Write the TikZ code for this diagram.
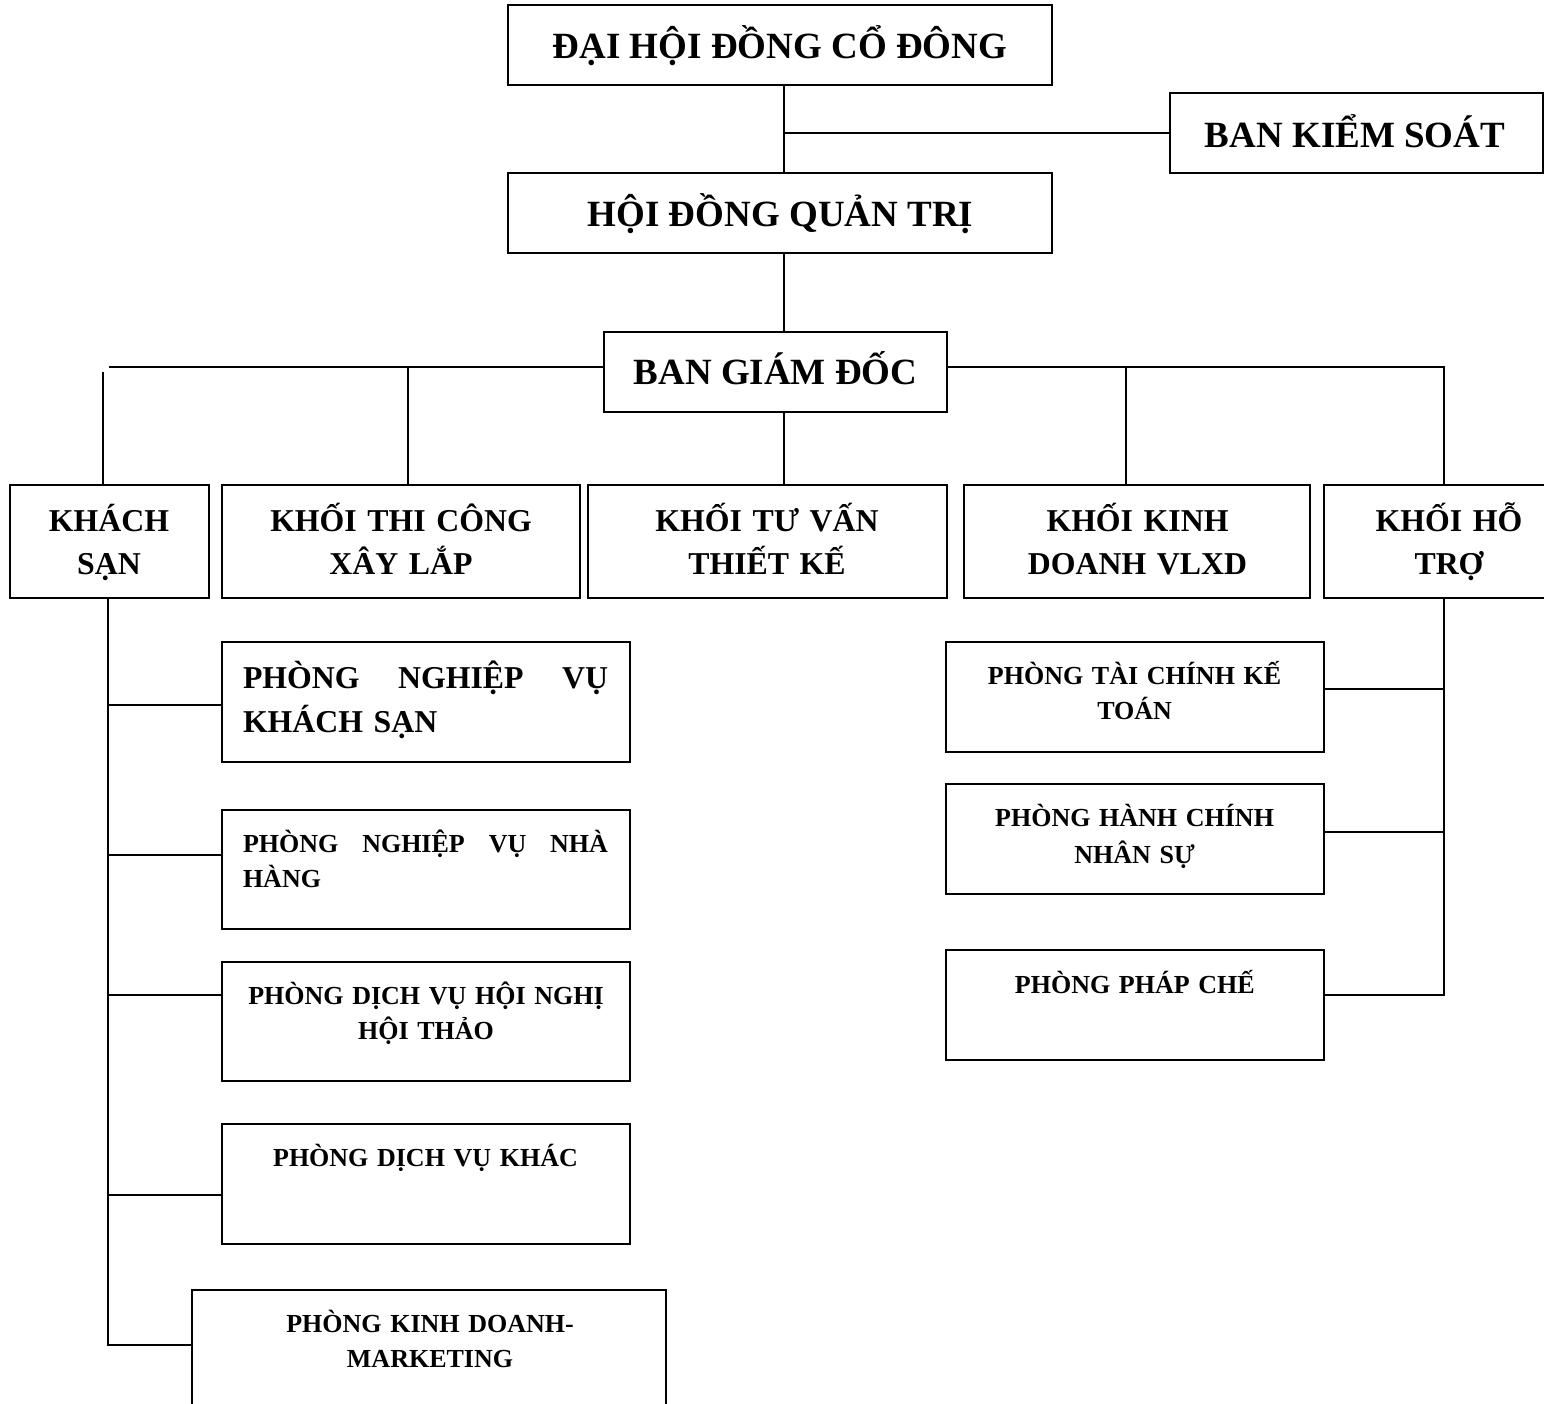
\documentclass[tikz,border=0pt]{standalone}
\usepackage{fontspec}
\setmainfont{Liberation Serif}
\begin{document}
\begin{tikzpicture}[x=0.5pt,y=-0.5pt,
  box/.style={draw, line width=1pt, rectangle, inner sep=0pt},
  conn/.style={line width=1pt},
  bigtxt/.style={inner sep=0pt, anchor=base, font=\bfseries\fontsize{18.5}{22}\selectfont},
  midtxt/.style={inner sep=0pt, anchor=base, text width=175pt, align=center, font=\bfseries\fontsize{15.9}{21.25}\selectfont},
  smalltxt/.style={inner sep=0pt, anchor=base, text width=200pt, align=center, font=\bfseries\fontsize{13}{17.5}\selectfont},
]
\useasboundingbox (0,0) rectangle (1544,1404);
\clip (0,0) rectangle (1544,1404);
\fill[white] (0,0) rectangle (1544,1404);

% boxes
\node[box, minimum width=272pt, minimum height=40pt] (dh) at (780,45) {};
\node[box, minimum width=186.5pt, minimum height=40pt] (bks) at (1356.5,133) {};
\node[box, minimum width=272pt, minimum height=40pt] (hdqt) at (780,213) {};
\node[box, minimum width=171.75pt, minimum height=39.75pt] (bgd) at (775.25,371.75) {};

\node[box, minimum width=99.5pt, minimum height=56.25pt] (ks) at (109,541.5) {};
\node[box, minimum width=179pt, minimum height=56.25pt] (tc) at (401,541.5) {};
\node[box, minimum width=179.75pt, minimum height=56.25pt] (tv) at (767.25,541.5) {};
\node[box, minimum width=173pt, minimum height=56.25pt] (kd) at (1137,541.5) {};
\node[box, minimum width=120pt, minimum height=56.25pt] (ht) at (1444,541.5) {};

\node[box, minimum width=204pt, minimum height=59.75pt] (pnvks) at (426,701.75) {};
\node[box, minimum width=204pt, minimum height=59.5pt] (pnvnh) at (426,869.5) {};
\node[box, minimum width=204pt, minimum height=59.5pt] (dvhn) at (426,1021.5) {};
\node[box, minimum width=204pt, minimum height=60pt] (dvk) at (426,1183.5) {};
\node[box, minimum width=236.75pt, minimum height=60pt] (kdm) at (428.75,1350) {};

\node[box, minimum width=189pt, minimum height=54.75pt] (ptckt) at (1135,696.75) {};
\node[box, minimum width=189pt, minimum height=55pt] (phcns) at (1135,839) {};
\node[box, minimum width=189pt, minimum height=55.25pt] (ppc) at (1135,1004.75) {};

% texts
\node[bigtxt] (dh-t) at (780,58) {ĐẠI HỘI ĐỒNG CỔ ĐÔNG};
\node[bigtxt] (bks-t) at (1355,147) {BAN KIỂM SOÁT};
\node[bigtxt] (hdqt-t) at (780.5,226) {HỘI ĐỒNG QUẢN TRỊ};
\node[bigtxt] (bgd-t) at (775.5,384) {BAN GIÁM ĐỐC};

\node[midtxt] (ks-t) at (109,531.5) {KHÁCH\\SẠN};
\node[midtxt] (tc-t) at (401,531.5) {KHỐI THI CÔNG\\XÂY LẮP};
\node[midtxt] (tv-t) at (767,531.5) {KHỐI TƯ VẤN\\THIẾT KẾ};
\node[midtxt] (kd-t) at (1137.5,531.5) {KHỐI KINH\\DOANH VLXD};
\node[midtxt] (ht-t) at (1449,531.5) {KHỐI HỖ\\TRỢ};

\node[inner sep=0pt, anchor=base, text width=182.5pt, align=left,
  font=\bfseries\fontsize{15.9}{22.25}\selectfont] (pnvks-t) at (425.5,688)
  {\makebox[\linewidth]{PHÒNG\hfill NGHIỆP\hfill VỤ}\\KHÁCH SẠN};
\node[inner sep=0pt, anchor=base, text width=182.5pt, align=left,
  font=\bfseries\fontsize{13}{17.5}\selectfont] (pnvnh-t) at (425.5,852.5)
  {\makebox[\linewidth]{PHÒNG\hfill NGHIỆP\hfill VỤ\hfill NHÀ}\\HÀNG};
\node[smalltxt] (dvhn-t) at (426,1004.5) {PHÒNG DỊCH VỤ HỘI NGHỊ\\HỘI THẢO};
\node[smalltxt] (dvk-t) at (425.5,1166.5) {PHÒNG DỊCH VỤ KHÁC};
\node[smalltxt] (kdm-t) at (430,1332.5) {PHÒNG KINH DOANH-\\MARKETING};

\node[smalltxt] (ptckt-t) at (1134.6,684.5) {PHÒNG TÀI CHÍNH KẾ\\TOÁN};
\node[smalltxt, font=\bfseries\fontsize{13}{18.3}\selectfont] (phcns-t) at (1134.6,826.5) {PHÒNG HÀNH CHÍNH\\NHÂN SỰ};
\node[smalltxt] (ppc-t) at (1134.8,993) {PHÒNG PHÁP CHẾ};

% connectors top
\draw[conn] ([xshift=2pt]dh.south) -- ([xshift=2pt]hdqt.north);
\draw[conn] ([xshift=2pt]dh.south |- bks.west) -- (bks.west);
\draw[conn] ([xshift=2pt]hdqt.south) -- ([xshift=2pt]hdqt.south |- bgd.north);
\draw[conn] ([xshift=2pt]hdqt.south |- bgd.south) -- ([xshift=2pt]hdqt.south |- tv.north);

% bgd to left blocks
\draw[conn] ([yshift=2.2pt]bgd.west) -- ([yshift=2.2pt]bgd.west -| ks.north);
\draw[conn] ([xshift=-3.25pt]ks.north) -- ([xshift=-3.25pt]ks.north |- bgd.west);
\draw[conn] ([xshift=3.5pt]tc.north) -- ([xshift=3.5pt,yshift=2.2pt]tc.north |- bgd.west);
% bgd to right blocks
\draw[conn] ([yshift=2.2pt]bgd.east) -| (ht.north);
\draw[conn] ([xshift=-5.5pt]kd.north) -- ([xshift=-5.5pt,yshift=2.2pt]kd.north |- bgd.east);

% khach san trunk
\draw[conn] ([xshift=-0.5pt]ks.south) |- ([yshift=-28pt]kdm.north west);
\draw[conn] ([yshift=-31.85pt]pnvks.north west) -- ([yshift=-31.85pt,xshift=-0.5pt]ks.south |- pnvks.north west);
\draw[conn] ([yshift=-23pt]pnvnh.north west) -- ([yshift=-23pt,xshift=-0.5pt]ks.south |- pnvnh.north west);
\draw[conn] ([yshift=-16.85pt]dvhn.north west) -- ([yshift=-16.85pt,xshift=-0.5pt]ks.south |- dvhn.north west);
\draw[conn] ([yshift=-36pt]dvk.north west) -- ([yshift=-36pt,xshift=-0.5pt]ks.south |- dvk.north west);

% ho tro trunk
\draw[conn] (ht.south) |- ([yshift=-23.2pt]ppc.north east);
\draw[conn] ([yshift=-24.15pt]ptckt.north east) -- ([yshift=-24.15pt]ht.south |- ptckt.north east);
\draw[conn] ([yshift=-24.65pt]phcns.north east) -- ([yshift=-24.65pt]ht.south |- phcns.north east);
\end{tikzpicture}
\end{document}
